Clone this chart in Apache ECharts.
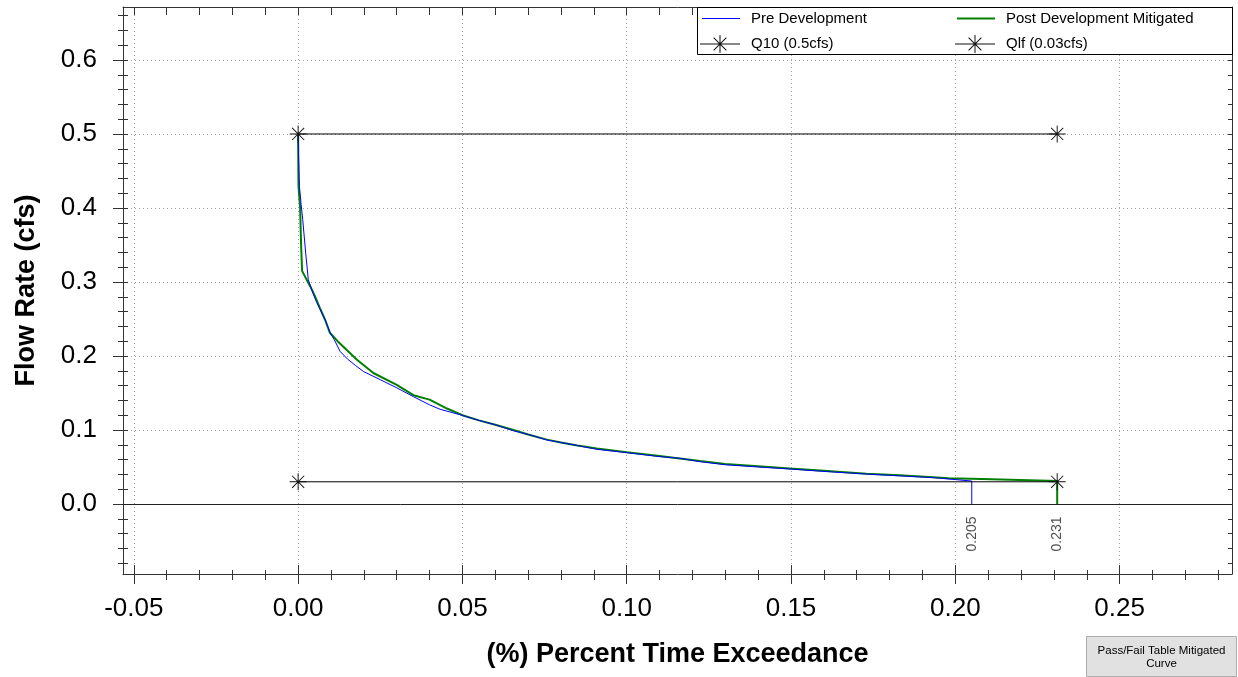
<!DOCTYPE html>
<html><head><meta charset="utf-8">
<script src="https://cdn.jsdelivr.net/npm/echarts@6/dist/echarts.min.js"></script>
<style>html,body{margin:0;padding:0;background:#fff}#c{width:1238px;height:677px}</style>
</head><body><div id="c"></div>
<script>
// ---- data ----
const preX = [0, 0.0001, 0.0004, 0.0009, 0.0014, 0.0023, 0.0031, 0.0045, 0.0057, 0.0070, 0.0082, 0.0097, 0.0110, 0.0128, 0.0150, 0.0175, 0.0199, 0.0250, 0.0300, 0.0351, 0.0400, 0.0432, 0.0498, 0.0550, 0.0600, 0.0655, 0.0700, 0.0757, 0.0800, 0.0850, 0.0909, 0.1000, 0.1100, 0.1163, 0.1223, 0.1300, 0.1400, 0.1497, 0.1600, 0.1730, 0.1830, 0.1933, 0.2000, 0.2050, 0.2050];
const preY = [0.500, 0.474, 0.429, 0.405, 0.384, 0.339, 0.303, 0.285, 0.272, 0.260, 0.249, 0.232, 0.222, 0.206, 0.196, 0.187, 0.179, 0.168, 0.157, 0.145, 0.134, 0.128, 0.120, 0.113, 0.107, 0.099, 0.094, 0.0865, 0.083, 0.079, 0.0739, 0.0694, 0.0640, 0.0617, 0.0572, 0.053, 0.050, 0.0473, 0.044, 0.0405, 0.038, 0.0356, 0.033, 0.031, 0];
const postX = [0, 0.0001, 0.0006, 0.0009, 0.0012, 0.0026, 0.0037, 0.0050, 0.0065, 0.0082, 0.0097, 0.0120, 0.0148, 0.0179, 0.0229, 0.0300, 0.0351, 0.0400, 0.0453, 0.0500, 0.0550, 0.0600, 0.0655, 0.0700, 0.0757, 0.0800, 0.0850, 0.0909, 0.1000, 0.1100, 0.1223, 0.1300, 0.1400, 0.1497, 0.1600, 0.1730, 0.1830, 0.1933, 0.1980, 0.2080, 0.2197, 0.2310, 0.2310];
const postY = [0.500, 0.430, 0.400, 0.350, 0.315, 0.303, 0.294, 0.282, 0.266, 0.249, 0.231, 0.220, 0.208, 0.195, 0.177, 0.161, 0.147, 0.141, 0.129, 0.120, 0.113, 0.107, 0.100, 0.094, 0.087, 0.083, 0.079, 0.075, 0.070, 0.065, 0.058, 0.054, 0.051, 0.048, 0.045, 0.041, 0.039, 0.036, 0.0347, 0.0338, 0.0324, 0.031, 0];
const q10X = [0, 0.231];
const q10Y = [0.5, 0.5];
const qlfX = [0, 0.231];
const qlfY = [0.03, 0.03];
const endX = [0.205, 0.231];
const endY = [0, 0];
const seriesNames = ['Pre Development', 'Post Development Mitigated', 'Q10 (0.5cfs)', 'Qlf (0.03cfs)'];
const xTitle = '(%) Percent Time Exceedance';
const yTitle = 'Flow Rate (cfs)';
const buttonText = 'Pass/Fail Table Mitigated\nCurve';
// axis extents and ticks
const X_MIN = -0.0533, X_MAX = 0.2842;
const Y_MIN = -0.0946, Y_MAX = 0.6716;
const xTicks = [-0.05, 0, 0.05, 0.10, 0.15, 0.20, 0.25];
const xMinorTicks = [-0.04, -0.03, -0.02, -0.01, 0.01, 0.02, 0.03, 0.04, 0.06, 0.07, 0.08, 0.09, 0.11, 0.12, 0.13, 0.14, 0.16, 0.17, 0.18, 0.19, 0.21, 0.22, 0.23, 0.24, 0.26, 0.27, 0.28];
const yTicks = [0, 0.1, 0.2, 0.3, 0.4, 0.5, 0.6];
const yMinorTicks = [-0.08, -0.06, -0.04, -0.02, 0.02, 0.04, 0.06, 0.08, 0.12, 0.14, 0.16, 0.18, 0.22, 0.24, 0.26, 0.28, 0.32, 0.34, 0.36, 0.38, 0.42, 0.44, 0.46, 0.48, 0.52, 0.54, 0.56, 0.58, 0.62, 0.64, 0.66];

const zip = (a, b) => a.map((v, i) => [v, b[i]]);
const FONT = "'Liberation Sans', Arial, sans-serif";
const AX = '#333';
const STAR = 'path://M8.5,0H9.5V18H8.5Z M0,8.5H18V9.5H0Z M2.95,2.25L15.75,15.05L15.05,15.75L2.25,2.95Z M15.05,2.25L15.75,2.95L2.95,15.75L2.25,15.05Z';
const STAR_LEG = 'path://M0,8.5H40V9.5H0Z M19.5,0H20.5V18H19.5Z M13.95,2.25L26.75,15.05L26.05,15.75L13.25,2.95Z M26.05,2.25L26.75,2.95L13.95,15.75L13.25,15.05Z';

const chart = echarts.init(document.getElementById('c'), null, {renderer: 'canvas'});

const tl = {color: AX, width: 1};
const allX = xTicks.concat(xMinorTicks);
const allY = yTicks.concat(yMinorTicks);

function tickAxis(kind, position, values, len, inside, lineShow) {
  const base = kind === 'x' ? {min: X_MIN, max: X_MAX} : {min: Y_MIN, max: Y_MAX};
  return Object.assign({type: 'value', position: position}, base, {
    axisLine: {show: !!lineShow, onZero: false, lineStyle: tl},
    axisTick: {show: true, inside: inside, length: len, lineStyle: tl, customValues: values},
    axisLabel: {show: false, customValues: values},
    splitLine: {show: false}, minorTick: {show: false}
  });
}

function legend(name, left, top, icon, w, h) {
  return {
    left: left, top: top, padding: 0, z: 10, itemWidth: w, itemHeight: h,
    data: [{name: name, icon: icon}],
    textStyle: {fontSize: 15, fontFamily: FONT, color: '#000', padding: [0, 0, 0, 6]},
    selectedMode: false
  };
}

chart.setOption({
  animation: false,
  backgroundColor: '#fff',
  grid: {left: 123, right: 6, top: 7, bottom: 103, containLabel: false},
  legend: [
    legend(seriesNames[0], 702, 11, 'rect', 38, 1),
    legend(seriesNames[1], 957, 11, 'rect', 38, 2),
    legend(seriesNames[2], 700, 35, STAR_LEG, 40, 18),
    legend(seriesNames[3], 955, 35, STAR_LEG, 40, 18)
  ],
  xAxis: [
    {
      type: 'value', position: 'bottom', min: X_MIN, max: X_MAX,
      axisLine: {show: true, onZero: false, lineStyle: tl},
      axisTick: {show: true, length: 10, lineStyle: tl, customValues: xTicks},
      minorTick: {show: false},
      axisLabel: {show: true, margin: 22, fontSize: 26, fontFamily: FONT, color: '#000',
        customValues: xTicks, formatter: v => v.toFixed(2)},
      splitLine: {show: true, lineStyle: {color: '#a0a0a0', width: 1, type: [1, 3]}},
      name: xTitle, nameLocation: 'middle', nameGap: 67,
      nameTextStyle: {fontSize: 27, fontWeight: 'bold', fontFamily: FONT, color: '#000'}
    },
    tickAxis('x', 'bottom', xMinorTicks, 6, false, false),
    tickAxis('x', 'bottom', xTicks, 9, true, false),
    tickAxis('x', 'bottom', xMinorTicks, 4, true, false),
    tickAxis('x', 'top', allX, 8, true, true)
  ],
  yAxis: [
    {
      type: 'value', position: 'left', min: Y_MIN, max: Y_MAX,
      axisLine: {show: true, onZero: false, lineStyle: tl},
      axisTick: {show: true, length: 10, lineStyle: tl, customValues: yTicks},
      minorTick: {show: false},
      axisLabel: {show: true, margin: 26, fontSize: 26, fontFamily: FONT, color: '#000',
        customValues: yTicks, formatter: v => v.toFixed(1)},
      splitLine: {show: true, lineStyle: {color: '#a0a0a0', width: 1, type: [1, 3]}},
      name: yTitle, nameLocation: 'middle', nameGap: 83,
      nameTextStyle: {fontSize: 27, fontWeight: 'bold', fontFamily: FONT, color: '#000'}
    },
    tickAxis('y', 'left', yMinorTicks, 5, false, false),
    tickAxis('y', 'left', allY, 5, true, false),
    tickAxis('y', 'right', allY, 4, true, true)
  ],
  graphic: [
    {type: 'rect', left: 697, top: 7, z: 3, shape: {width: 535, height: 47},
      style: {fill: '#fff', stroke: '#000', lineWidth: 1}},
    {type: 'group', left: 1086, top: 636, z: 20, children: [
      {type: 'rect', shape: {x: 0.5, y: 0.5, width: 150, height: 40},
        style: {fill: '#e1e1e1', stroke: '#adadad', lineWidth: 1}},
      {type: 'text', x: 75.5, y: 21, style: {text: buttonText, fill: '#000', font: '11.5px ' + FONT,
        align: 'center', verticalAlign: 'middle', lineHeight: 13}}
    ]}
  ],
  series: [
    {name: 'ends', type: 'scatter', data: zip(endX, endY), symbolSize: 1, z: 1, silent: true,
      itemStyle: {color: 'rgba(0,0,0,0)'},
      label: {show: true, position: 'bottom', distance: 12, rotate: 90, align: 'right', verticalAlign: 'middle',
        fontSize: 14, fontFamily: FONT, color: '#222', formatter: p => p.value[0].toFixed(3)},
      markLine: {silent: true, symbol: 'none', label: {show: false},
        lineStyle: {color: '#222', width: 1, type: 'solid'}, data: [{yAxis: 0}]}
    },
    {name: seriesNames[1], type: 'line', data: zip(postX, postY), showSymbol: false, symbol: 'none', z: 3,
      color: '#008000', lineStyle: {color: '#008000', width: 2}},
    {name: seriesNames[0], type: 'line', data: zip(preX, preY), showSymbol: false, symbol: 'none', z: 4,
      color: '#0000ff', lineStyle: {color: '#0000ff', width: 1}},
    {name: seriesNames[2], type: 'line', data: zip(q10X, q10Y), symbol: STAR, symbolSize: 17, showSymbol: true, z: 5,
      color: '#111', itemStyle: {color: '#111'}, lineStyle: {color: '#000', width: 1}},
    {name: seriesNames[3], type: 'line', data: zip(qlfX, qlfY), symbol: STAR, symbolSize: 17, showSymbol: true, z: 5,
      color: '#111', itemStyle: {color: '#111'}, lineStyle: {color: '#000', width: 1}}
  ]
});
</script></body></html>
